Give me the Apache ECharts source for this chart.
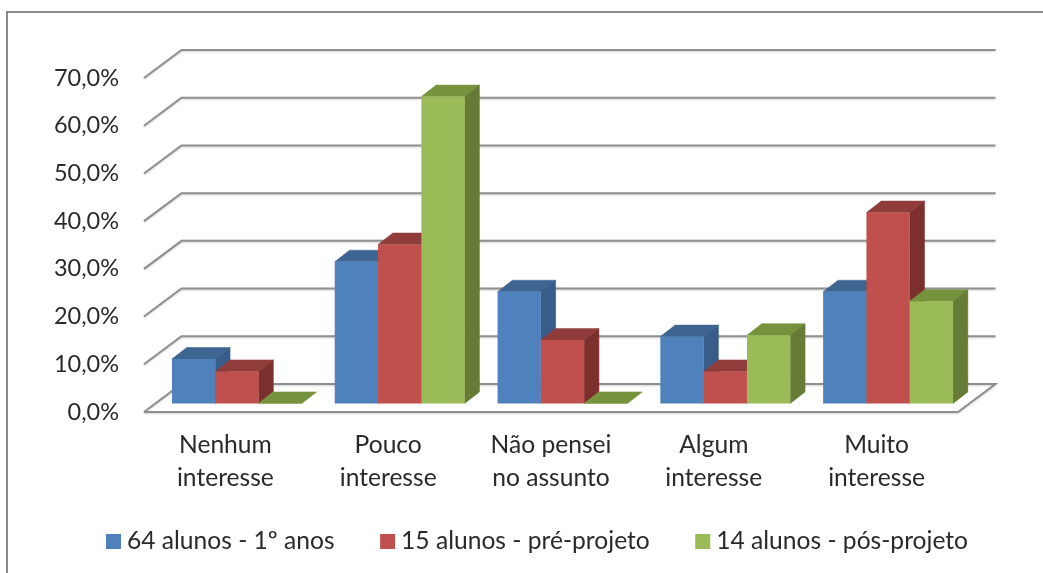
<!DOCTYPE html>
<html><head><meta charset="utf-8">
<style>html,body{margin:0;padding:0;background:#fff}#c{width:1043px;height:573px}</style>
<script src="https://cdn.jsdelivr.net/npm/echarts@6/dist/echarts.min.js"></script>
</head><body><div id="c"></div>
<script>
const categories = ['Nenhum\ninteresse','Pouco\ninteresse','Não pensei\nno assunto','Algum\ninteresse','Muito\ninteresse'];
const alunos1 = [9.3,29.7,23.4,14.0,23.4];
const pre = [6.7,33.3,13.3,6.7,40.0];
const pos = [0,64.3,0,14.3,21.4];
const ticks = [0,10,20,30,40,50,60,70];
const names = ['64 alunos - 1º anos','15 alunos - pré-projeto','14 alunos - pós-projeto'];
const front = ['#4F81BD','#C0504D','#9BBB59'];
const tops = ['#3E6491','#8F3C3A','#76923C'];
const sides = ['#385D8A','#7C302E','#667B36'];

const WALL = [37.5,-28], PLANE = [0,-8.6], DEPTH = [14.8,-11.5], BAR = 43.3, GROUP = 11.5;
const GRID = '#8f8f8f';
const TEXT = '#2a2a2a';
const chart = echarts.init(document.getElementById('c'));

function wall(params, api){
  const t = api.value(0), y = api.coord([0,t])[1], cs = params.coordSys;
  const x0 = cs.x, x1 = cs.x + cs.width;
  const pts = t === 0
    ? [[x0,y],[x0+WALL[0],y+WALL[1]],[x1+WALL[0],y+WALL[1]],[x1,y],[x0,y]]
    : [[x0,y],[x0+WALL[0],y+WALL[1]],[x1+WALL[0],y+WALL[1]]];
  return {type:'polyline',shape:{points:pts},style:{fill:null,stroke:GRID,lineWidth:2,shadowColor:'rgba(0,0,0,0.18)',shadowBlur:2,shadowOffsetY:1}};
}
function barSeries(i, values){
  return {
    type:'custom', name:names[i], coordinateSystem:'cartesian2d', z:3+i,
    itemStyle:{color:front[i]},
    data: values.map((v,k)=>[k,v]),
    renderItem(params, api){
      const b = api.coord([api.value(0),0]), p = api.coord([api.value(0),api.value(1)]);
      const x = b[0]+GROUP-1.5*BAR+i*BAR+PLANE[0], y0 = b[1]+PLANE[1], y1 = p[1]+PLANE[1];
      const dx = DEPTH[0], dy = DEPTH[1], x2 = x+BAR;
      const poly = (pts,fill)=>({type:'polygon',shape:{points:pts},style:{fill,stroke:fill,lineWidth:0.5}});
      const kids = [
        poly([[x,y1],[x+dx,y1+dy],[x2+dx,y1+dy],[x2,y1]],tops[i])
      ];
      if(y0-y1>0.5){
        kids.push(poly([[x2,y0],[x2+dx,y0+dy],[x2+dx,y1+dy],[x2,y1]],sides[i]));
        kids.push({type:'rect',shape:{x,y:y1,width:BAR,height:y0-y1},style:{fill:front[i]}});
      }
      return {type:'group',children:kids};
    }
  };
}
chart.setOption({
  animation:false,
  backgroundColor:'#fff',
  textStyle:{fontFamily:'Lato'},
  graphic:[{type:'rect',silent:true,z:0,shape:{x:7,y:12,width:1060,height:580},style:{fill:'#fff',stroke:'#8a8a8a',lineWidth:2}}],
  grid:{left:144,top:78,width:814,height:334},
  xAxis:{type:'category',data:categories,axisLine:{show:false},axisTick:{show:false},splitLine:{show:false},
    axisLabel:{margin:17,fontSize:24.6,lineHeight:33,color:TEXT,fontFamily:'Lato',interval:0}},
  yAxis:{type:'value',min:0,max:70,interval:10,axisLine:{show:false},axisTick:{show:false},splitLine:{show:false},
    axisLabel:{margin:25,fontSize:23.5,color:TEXT,fontFamily:'Lato',formatter:v=>v.toFixed(1).replace('.',',')+'%'}},
  legend:{left:101,top:524,icon:'rect',itemWidth:15,itemHeight:15,itemGap:45.5,data:names,
    textStyle:{fontSize:24.6,color:TEXT,fontFamily:'Lato',padding:[0,0,0,1]}},
  series:[
    {type:'custom',coordinateSystem:'cartesian2d',z:2,silent:true,data:ticks.map(t=>[t]),encode:{y:0},renderItem:wall},
    barSeries(0,alunos1),barSeries(1,pre),barSeries(2,pos)
  ]
});
</script></body></html>
